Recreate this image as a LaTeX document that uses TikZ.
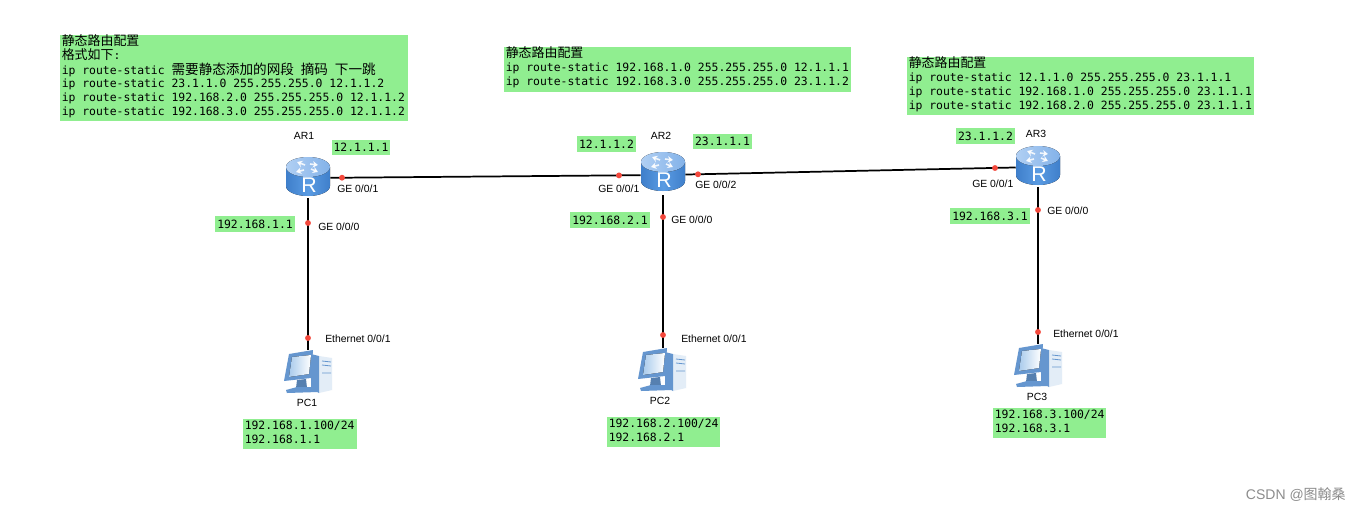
\documentclass[tikz,border=0pt]{standalone}
\usepackage{fontspec}
\setmainfont{Liberation Sans}
\newfontfamily\cjk{Noto Sans CJK SC}
\newfontfamily\mono{DejaVu Sans Mono}
\newcommand{\zh}[1]{{\cjk\fontsize{9.7pt}{10.6pt}\selectfont #1}}
\newcommand{\zhb}[1]{{\cjk\fontsize{10.2pt}{10.6pt}\selectfont #1}}
\newcommand{\monof}{\mono\fontsize{8.55pt}{10.6pt}\selectfont}
\usetikzlibrary{arrows.meta}
\definecolor{hl}{HTML}{90EE90}
\definecolor{blueA}{HTML}{5A9BE2}
\definecolor{blueB}{HTML}{8FBBEE}
\definecolor{blueC}{HTML}{3F7FCB}
\definecolor{pcA}{HTML}{6596CF}
\definecolor{pcB}{HTML}{A9CBEC}
\definecolor{pcC}{HTML}{E3EDF7}
\definecolor{portdot}{HTML}{F4483C}
\tikzset{
  x=0.75pt,y=-0.75pt,
  txt/.style={inner sep=0pt,anchor=west,font=\monof},
  port/.style={anchor=west,inner sep=0pt,font=\fontsize{7.8pt}{9pt}\selectfont},
  devname/.style={inner sep=0pt,font=\fontsize{7.8pt}{9pt}\selectfont},
  dot/.style={circle,fill=portdot,draw=none,inner sep=0pt,minimum size=4.4pt},
  link/.style={draw=black,line width=1.3pt},
  anchorbox/.style={inner sep=0pt,minimum width=33pt,minimum height=30pt},
  pcbox/.style={inner sep=0pt,minimum width=36pt,minimum height=33pt},
  routericon/.pic={
    \fill[left color=blueC,right color=blueC,middle color=blueA]
      (-22,-10) -- (-22,9) arc[start angle=180,end angle=0,x radius=22,y radius=10] -- (22,-10) -- cycle;
    \fill[left color=blueB!70!white,right color=blueB!85!blueC]
      (0,-10) ellipse[x radius=22,y radius=10];
    \foreach \a/\b/\c/\d in {-3/-12/-11/-15,2/-13/10/-12,-4/-7/-12/-5,3/-8/10/-5}{
      \draw[white,opacity=.85,line width=1.2pt,-{Stealth[length=4pt,width=5pt]}] (\a,\b) -- (\c,\d);}
    \node[white,inner sep=0pt,font=\fontsize{16pt}{16pt}\selectfont] at (1,8.5) {R};
  },
  pcicon/.pic={
    \fill[pcC] (11,-16) -- (24,-14) -- (24,18) -- (11,21) -- cycle;
    \fill[pcA] (3,-18) -- (11,-16) -- (11,21) -- (3,16) -- cycle;
    \draw[pcA,line width=0.6pt] (14,-11) -- (23,-10) (14,-7) -- (23,-6) (14,1) -- (23,1);
    \fill[pcA!85!black] (-11,8) -- (-2,7) -- (-1,16) -- (-12,16) -- cycle;
    \fill[pcA] (-22,18) -- (-11,15) -- (8,15) -- (10,20) -- (-21,21) -- cycle;
    \fill[pcA] (-19,-18) -- (5,-22) -- (3,6) -- (-24,9) -- cycle;
    \fill[left color=pcB,right color=white] (-16,-15) -- (3,-17) -- (1,2) -- (-19,5) -- cycle;
  }
}
\begin{document}
\begin{tikzpicture}
\useasboundingbox[fill=white] (0,0) rectangle (1361,512);
% notes
\fill[hl] (60,35) rectangle (408,121);
\node[txt] (ta1) at (61.5,41) {\zh{静态路由配置}};
\node[txt] (ta2) at (61.5,55) {\zh{格式如下}:};
\node[txt] (ta3) at (61.5,70) {ip route-static \zhb{需要静态添加的网段} \zhb{摘码} \zhb{下一跳}};
\node[txt] (ta4) at (61.5,84) {ip route-static 23.1.1.0 255.255.255.0 12.1.1.2};
\node[txt] (ta5) at (61.5,98) {ip route-static 192.168.2.0 255.255.255.0 12.1.1.2};
\node[txt] (ta6) at (61.5,112) {ip route-static 192.168.3.0 255.255.255.0 12.1.1.2};
\fill[hl] (504,47) rectangle (851,92);
\node[txt] (tb1) at (505.5,53) {\zh{静态路由配置}};
\node[txt] (tb2) at (505.5,68) {ip route-static 192.168.1.0 255.255.255.0 12.1.1.1};
\node[txt] (tb3) at (505.5,82) {ip route-static 192.168.3.0 255.255.255.0 23.1.1.2};
\fill[hl] (907,57) rectangle (1254,115);
\node[txt] (tc1) at (908.5,63) {\zh{静态路由配置}};
\node[txt] (tc2) at (908.5,78) {ip route-static 12.1.1.0 255.255.255.0 23.1.1.1};
\node[txt] (tc3) at (908.5,92) {ip route-static 192.168.1.0 255.255.255.0 23.1.1.1};
\node[txt] (tc4) at (908.5,106) {ip route-static 192.168.2.0 255.255.255.0 23.1.1.1};
% devices (anchors)
\node[anchorbox] (r1) at (308,178) {};
\node[anchorbox] (r2) at (663,175) {};
\node[anchorbox] (r3) at (1038,167) {};
\node[pcbox] (p1) at (308,372) {};
\node[pcbox] (p2) at (663,370) {};
\node[pcbox] (p3) at (1038,366) {};
% links
\draw[link] (r1) -- (r2);
\draw[link] (r2) -- (r3);
\draw[link] (r1) -- (p1.north);
\draw[link] (r2) -- (p2.north);
\draw[link] (r3) -- (p3.north);
% icons
\pic at ([yshift=0.75pt]r1) {routericon};
\pic at ([yshift=2.25pt]r2) {routericon};
\pic at ([yshift=0.75pt]r3) {routericon};
\pic at (p1) {pcicon};
\pic at ([xshift=-0.75pt]p2) {pcicon};
\pic at (p3) {pcicon};
% port dots
\node[dot] (d1) at (342,177.7) {};
\node[dot] (d2) at (308,223) {};
\node[dot] (d3) at (308,338) {};
\node[dot] (d4) at (619,175.4) {};
\node[dot] (d5) at (698,174.3) {};
\node[dot] (d6) at (663,217) {};
\node[dot] (d7) at (663,335) {};
\node[dot] (d8) at (995,168) {};
\node[dot] (d9) at (1038,210) {};
\node[dot] (d10) at (1038,332) {};
% device names
\node[devname] (n1) at (304,136) {AR1};
\node[devname] (n2) at (661,136) {AR2};
\node[devname] (n3) at (1036,134) {AR3};
\node[devname] (n4) at (307,403) {PC1};
\node[devname] (n5) at (660,401) {PC2};
\node[devname] (n6) at (1037,397) {PC3};
% port labels
\node[port] (l1) at (337,189) {GE 0/0/1};
\node[port] (l2) at (318,227) {GE 0/0/0};
\node[port] (l3) at (325,339) {Ethernet 0/0/1};
\node[port] (l4) at (598,189) {GE 0/0/1};
\node[port] (l5) at (695,185) {GE 0/0/2};
\node[port] (l6) at (671,220) {GE 0/0/0};
\node[port] (l7) at (681,339) {Ethernet 0/0/1};
\node[port] (l8) at (972,184) {GE 0/0/1};
\node[port] (l9) at (1047,211) {GE 0/0/0};
\node[port] (l10) at (1053,334) {Ethernet 0/0/1};
% address tags
\foreach \nm/\xa/\ya/\xb/\yb/\lab in {
  i1/332/140/390/155/12.1.1.1,
  i2/215/216/295/232/192.168.1.1,
  i3/577/136/636/152/12.1.1.2,
  i4/693/134/752/149/23.1.1.1,
  i5/570/212/650/228/192.168.2.1,
  i6/956/128/1015/144/23.1.1.2,
  i7/950/208/1030/224/192.168.3.1}{
  \fill[hl] (\xa,\ya) rectangle (\xb,\yb);
  \node[txt,anchor=center] (\nm) at ({(\xa+\xb)/2},{(\ya+\yb)/2}) {\lab};
}
\foreach \nm/\xa/\ya/\xb/\yb/\laba/\labb in {
  h1/243/419/357/449/{192.168.1.100/24}/192.168.1.1,
  h2/607/417/720/447/{192.168.2.100/24}/192.168.2.1,
  h3/993/408/1106/438/{192.168.3.100/24}/192.168.3.1}{
  \fill[hl] (\xa,\ya) rectangle (\xb,\yb);
  \node[txt] (\nm a) at (\xa+1.5,\ya+6.5) {\laba};
  \node[txt] (\nm b) at (\xa+1.5,\ya+20.5) {\labb};
}
\node[inner sep=0pt,anchor=east,text=black!45,font=\fontsize{10.5pt}{12pt}\selectfont] (wm) at (1346,495) {CSDN @{\cjk 图翰桑}};
\end{tikzpicture}
\end{document}
